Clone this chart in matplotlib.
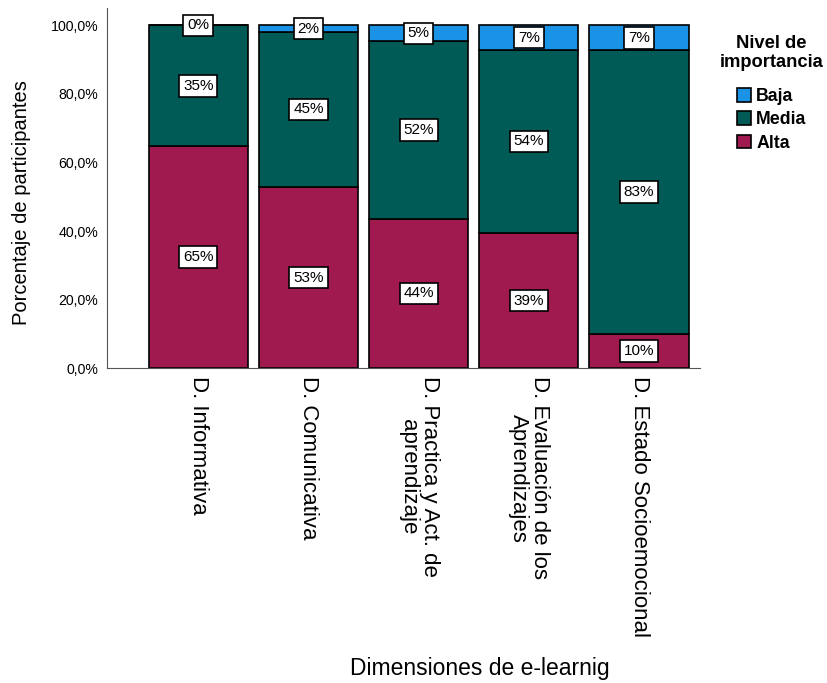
import matplotlib
matplotlib.use('Agg')
import matplotlib.pyplot as plt
import numpy as np

plt.rcParams['font.family'] = ['Liberation Sans', 'DejaVu Sans']

dimensiones = ['D. Informativa', 'D. Comunicativa', 'D. Practica y Act. de\naprendizaje',
               'D. Evaluación de los\nAprendizajes', 'D. Estado Socioemocional']
alta = [64.7, 52.8, 43.6, 39.4, 10.1]
media = [35.3, 45.3, 51.7, 53.5, 82.6]
baja = [0.0, 1.9, 4.7, 7.1, 7.3]
niveles = ['Baja', 'Media', 'Alta']
colores = {'Baja': '#1a92e6', 'Media': '#005a55', 'Alta': '#a01a50'}

fig = plt.figure(figsize=(8.28, 6.83), dpi=100)
ax = fig.add_axes([0.129, 0.461, 0.716, 0.527])

x = np.arange(len(dimensiones))
alta = np.array(alta); media = np.array(media); baja = np.array(baja)
w = 0.9
b1 = ax.bar(x, alta, w, color=colores['Alta'], edgecolor='black', linewidth=1.2, label='Alta')
b2 = ax.bar(x, media, w, bottom=alta, color=colores['Media'], edgecolor='black', linewidth=1.2, label='Media')
b3 = ax.bar(x, baja, w, bottom=alta+media, color=colores['Baja'], edgecolor='black', linewidth=1.2, label='Baja')

box = dict(boxstyle='square,pad=0.25', fc='white', ec='black', lw=1.2)
for i in range(len(x)):
    ax.text(x[i], alta[i]/2, '%.0f%%' % alta[i], ha='center', va='center', fontsize=11, bbox=box)
    ax.text(x[i], alta[i]+media[i]/2, '%.0f%%' % media[i], ha='center', va='center', fontsize=11, bbox=box)
    ax.text(x[i], alta[i]+media[i]+baja[i]/2, '%.0f%%' % baja[i], ha='center', va='center', fontsize=11, bbox=box)

ax.set_ylim(0, 105)
ax.set_xlim(-0.83, 4.55)
ax.set_yticks([0, 20, 40, 60, 80, 100])
ax.set_yticklabels(['0,0%', '20,0%', '40,0%', '60,0%', '80,0%', '100,0%'], fontsize=10.2)
ax.set_xticks(x)
ax.set_xticklabels(dimensiones, rotation=270, fontsize=16, va='top', ha='center', linespacing=1.0)
ax.tick_params(length=0, pad=6)
ax.spines['top'].set_visible(False)
ax.spines['right'].set_visible(False)
ax.spines['left'].set_color('#555555')
ax.spines['bottom'].set_color('#555555')
ax.set_ylabel('Porcentaje de participantes', fontsize=14.5)
ax.yaxis.set_label_coords(-0.128, 0.46)
fig.text(0.58, 0.011, 'Dimensiones de e-learnig', ha='center', fontsize=16.5)

handles = [b3, b2, b1]
leg = fig.legend(handles, niveles, title='Nivel de\nimportancia', loc='upper center',
                 bbox_to_anchor=(0.932, 0.962), frameon=False, borderpad=0,
                 handlelength=0.8, handleheight=0.8, handletextpad=0.3, labelspacing=0.35,
                 prop={'weight': 'bold', 'size': 12.8},
                 title_fontproperties={'weight': 'bold', 'size': 13.2})
leg.get_title().set_multialignment('center')
leg._legend_box.align = 'center'
leg._legend_box.sep = 12

fig.savefig('out.png', dpi=100)
